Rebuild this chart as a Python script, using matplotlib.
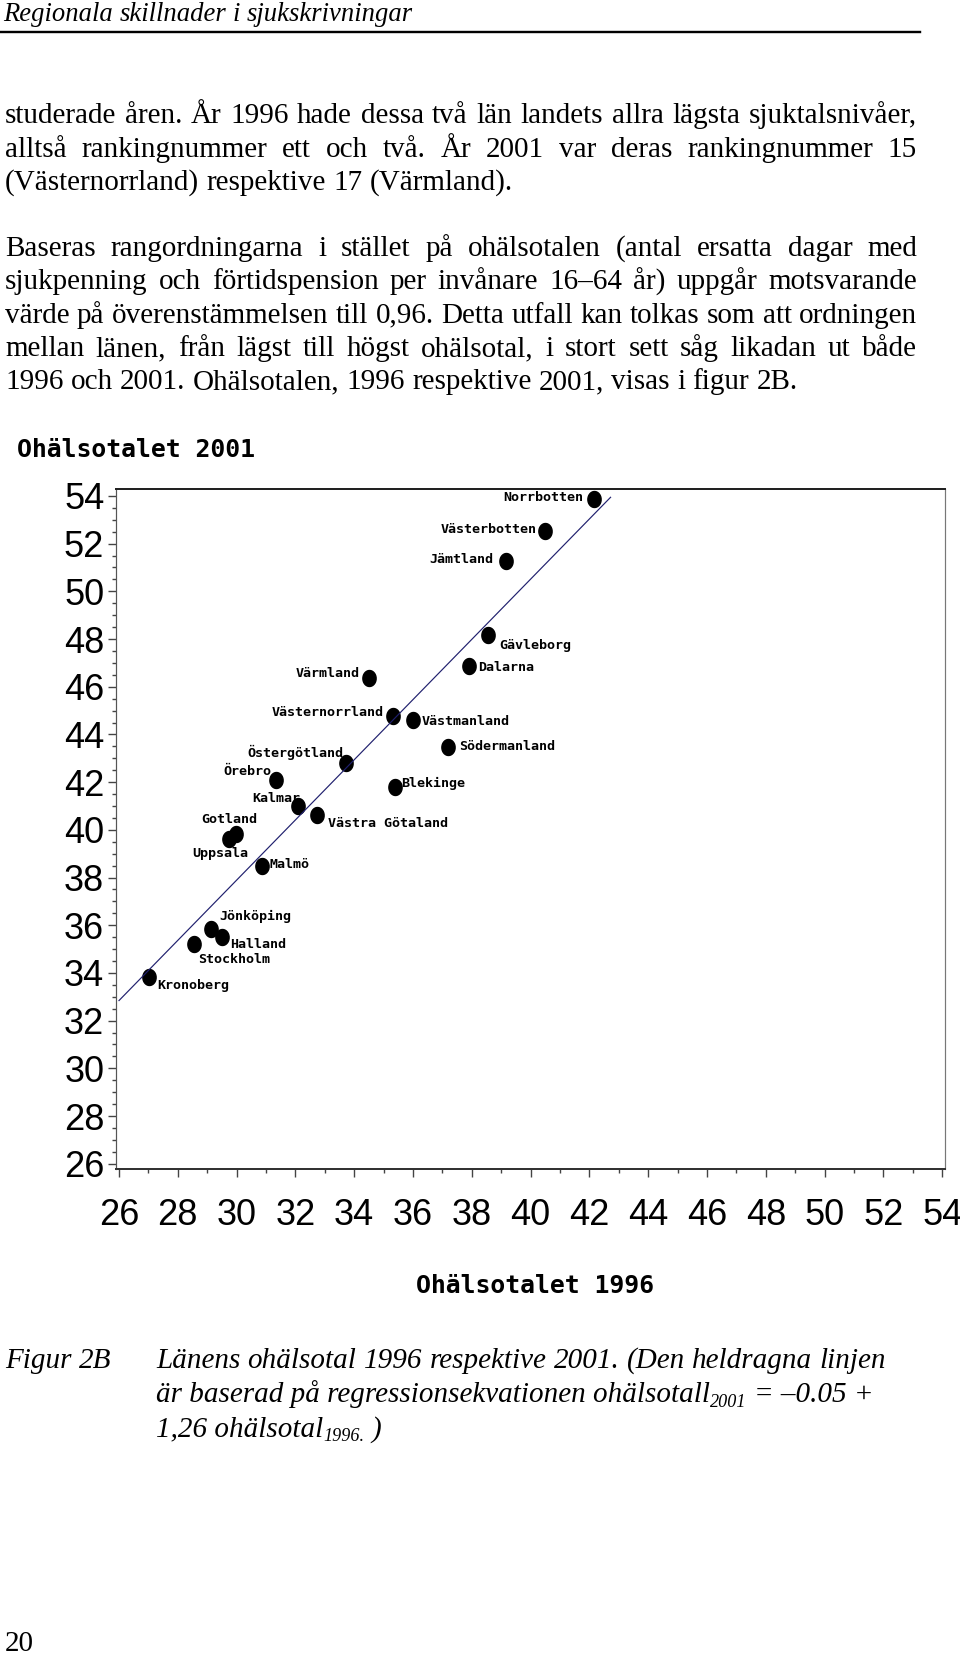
import matplotlib
matplotlib.use('Agg')
import matplotlib.pyplot as plt
import numpy as np
from matplotlib.ticker import MultipleLocator
from matplotlib.lines import Line2D
from matplotlib import font_manager

# ---------------- data ----------------
counties = ['Norrbotten', 'Västerbotten', 'Jämtland', 'Gävleborg', 'Dalarna',
            'Värmland', 'Västernorrland', 'Västmanland', 'Södermanland',
            'Östergötland', 'Örebro', 'Blekinge', 'Kalmar', 'Västra Götaland',
            'Gotland', 'Uppsala', 'Malmö', 'Jönköping', 'Halland', 'Stockholm',
            'Kronoberg']
ohalsotal_1996 = [42.17, 40.49, 39.15, 38.56, 37.90, 34.49, 35.31, 36.01, 37.19,
                  33.72, 31.33, 35.40, 32.09, 32.72, 29.97, 29.75, 30.86, 29.13,
                  29.49, 28.55, 27.01]
ohalsotal_2001 = [53.86, 52.55, 51.29, 48.18, 46.88, 46.37, 44.78, 44.61, 43.49,
                  42.79, 42.09, 41.81, 41.00, 40.61, 39.82, 39.62, 38.50, 35.83,
                  35.52, 35.22, 33.82]
reg_intercept = 0.03
reg_slope = 1.262
reg_x_range = [26.0, 42.72]
x_ticks = list(range(26, 55, 2))
y_ticks = list(range(26, 55, 2))

header_text = "Regionala skillnader i sjukskrivningar"
para1 = ["studerade åren. År 1996 hade dessa två län landets allra lägsta sjuktalsnivåer,",
         "alltså rankingnummer ett och två. År 2001 var deras rankingnummer 15",
         "(Västernorrland) respektive 17 (Värmland)."]
para2 = ["Baseras rangordningarna i stället på ohälsotalen (antal ersatta dagar med",
         "sjukpenning och förtidspension per invånare 16–64 år) uppgår motsvarande",
         "värde på överenstämmelsen till 0,96. Detta utfall kan tolkas som att ordningen",
         "mellan länen, från lägst till högst ohälsotal, i stort sett såg likadan ut både",
         "1996 och 2001. Ohälsotalen, 1996 respektive 2001, visas i figur 2B."]
chart_title = "Ohälsotalet 2001"
x_label = "Ohälsotalet 1996"
fig_label = "Figur 2B"
caption1 = "Länens ohälsotal 1996 respektive 2001. (Den heldragna linjen"
caption2 = [("är baserad på regressionsekvationen ohälsotall", False), ("2001", True), (" = –0.05 +", False)]
caption3 = [("1,26 ohälsotal", False), ("1996.", True), (" )", False)]
page_number = "20"

# ---------------- layout (pixels) ----------------
W, H, DPI = 960, 1660, 100
PT = 72.0 / DPI
# label offsets: (dx, dy of text centre, horizontal anchor) in pixels
label_layout = {
    'Norrbotten': (-11, -3, 'right'), 'Västerbotten': (-8, -3, 'right'),
    'Jämtland': (-12, -3, 'right'), 'Gävleborg': (11, 9, 'left'),
    'Dalarna': (9, 0, 'left'), 'Värmland': (-9, -6, 'right'),
    'Västernorrland': (-9, -5, 'right'), 'Västmanland': (8, 0, 'left'),
    'Södermanland': (11, -2, 'left'), 'Östergötland': (-3, -11, 'right'),
    'Örebro': (-4, -10, 'right'), 'Blekinge': (6, -5, 'left'),
    'Kalmar': (2, -9, 'right'), 'Västra Götaland': (11, 7, 'left'),
    'Gotland': (-6, -16, 'center'), 'Uppsala': (-9, 13, 'center'),
    'Malmö': (8, -3, 'left'), 'Jönköping': (8, -14, 'left'),
    'Halland': (9, 6, 'left'), 'Stockholm': (4, 14, 'left'),
    'Kronoberg': (9, 7, 'left'),
}

SERIF = 'Liberation Serif'
MONO = 'DejaVu Sans Mono'
installed = {f.name for f in font_manager.fontManager.ttflist}
if 'Liberation Sans Narrow' in installed:
    TICKFONT, TICKSIZE = 'Liberation Sans Narrow', 27.5
else:
    TICKFONT, TICKSIZE = 'Liberation Sans', 26

fig = plt.figure(figsize=(W / DPI, H / DPI), dpi=DPI)
fig.patch.set_facecolor('white')
renderer = fig.canvas.get_renderer()


def fx(x):
    return x / W


def fy(y):
    return 1 - y / H


def measure(s, size, style='normal', family=SERIF):
    t = fig.text(0, 0, s, fontsize=size, fontstyle=style, family=family)
    w = t.get_window_extent(renderer=renderer).width
    t.remove()
    return w


def space_w(size, style='normal'):
    return measure("a a", size, style) - 2 * measure("a", size, style)


def natural(line, size, style='normal'):
    words = line.split(' ')
    return sum(measure(w, size, style) for w in words) + (len(words) - 1) * space_w(size, style)


def draw_line(line, x0, base, size, style='normal', target=None):
    words = line.split(' ')
    ws = [measure(w, size, style) for w in words]
    if target is None or len(words) < 2:
        gap = space_w(size, style)
    else:
        gap = (target - sum(ws)) / (len(words) - 1)
    x = x0
    for w, wd in zip(words, ws):
        fig.text(fx(x), fy(base), w, fontsize=size, fontstyle=style, family=SERIF,
                 va='baseline', ha='left', color='black')
        x += wd + gap


def draw_runs(runs, x0, base, size, style='italic'):
    x = x0
    sp = space_w(size, style)
    for s, sub in runs:
        lead = s.startswith(' ')
        s2 = s.strip()
        if lead:
            x += sp
        sz = size * 0.62 if sub else size
        b = base + (size / PT) * 0.16 if sub else base
        fig.text(fx(x), fy(b), s2, fontsize=sz, fontstyle=style, family=SERIF,
                 va='baseline', ha='left', color='black')
        x += measure(s2, sz, style)


# ---------------- header ----------------
ref = 20.0
hs = ref * 410 / natural(header_text, ref, 'italic')
draw_line(header_text, 3, 20.7, hs, 'italic')
fig.add_artist(Line2D([fx(0), fx(920)], [fy(31.7), fy(31.7)], color='black', lw=2.4 * PT))

# ---------------- body text ----------------
all_lines = para1[:-1] + para2[:-1]
bs = min(ref * 912 / natural(l, ref) for l in all_lines)
bases1 = [123.3, 156.6, 189.9]
bases2 = [256.0, 289.3, 322.6, 355.9, 389.2]
for i, (l, b) in enumerate(zip(para1, bases1)):
    draw_line(l, 5, b, bs, 'normal', None if i == len(para1) - 1 else 912)
for i, (l, b) in enumerate(zip(para2, bases2)):
    draw_line(l, 5, b, bs, 'normal', None if i == len(para2) - 1 else 912)

# ---------------- chart ----------------
fig.text(fx(17), fy(456.7), chart_title, fontsize=17.8, family=MONO, fontweight='bold',
         va='baseline', ha='left')

ax = fig.add_axes([116 / W, 1 - 1169 / H, 829 / W, 680 / H])
ax.set_xlim(25.898, 54.095)
ax.set_ylim(25.78, 54.29)
ax.set_xticks(x_ticks)
ax.set_yticks(y_ticks)
ax.set_xticklabels([str(v) for v in x_ticks])
ax.set_yticklabels([str(v) for v in y_ticks])
ax.xaxis.set_minor_locator(MultipleLocator(1))
ax.yaxis.set_minor_locator(MultipleLocator(0.5))
ax.tick_params(which='major', direction='out', length=8 * PT, width=1.0, color='#444444')
ax.tick_params(which='minor', direction='out', length=4 * PT, width=1.0, color='#444444')
ax.tick_params(axis='x', which='major', pad=15, labelsize=TICKSIZE)
ax.tick_params(axis='y', which='major', pad=2.7, labelsize=TICKSIZE)
for lab in ax.get_xticklabels() + ax.get_yticklabels():
    lab.set_family(TICKFONT)
    lab.set_color('black')
ax.spines['top'].set_linewidth(2.0 * PT)
ax.spines['top'].set_color('#222222')
ax.spines['bottom'].set_linewidth(2.0 * PT)
ax.spines['bottom'].set_color('#333333')
ax.spines['left'].set_linewidth(1.2 * PT)
ax.spines['left'].set_color('#555555')
ax.spines['right'].set_linewidth(1.2 * PT)
ax.spines['right'].set_color('#777777')

t = np.linspace(0, 2 * np.pi, 48)
ellipse = np.column_stack([0.83 * np.cos(t), np.sin(t)])
ax.plot(ohalsotal_1996, ohalsotal_2001, linestyle='none', marker=ellipse,
        markersize=11.5, color='black', zorder=2, clip_on=False)

xr = np.array(reg_x_range)
ax.plot(xr, reg_intercept + reg_slope * xr, color='#20206e', lw=0.85, zorder=3)

for name, xv, yv in zip(counties, ohalsotal_1996, ohalsotal_2001):
    dx, dy, ha = label_layout[name]
    ax.annotate(name, (xv, yv), xytext=(dx, -(dy + 5)), textcoords='offset pixels',
                ha=ha, va='baseline', fontsize=9.6, family=MONO, fontweight='bold',
                color='black', zorder=4)

fig.text(fx(535.5), fy(1293), x_label, fontsize=17.8, family=MONO, fontweight='bold',
         va='baseline', ha='center')

# ---------------- caption ----------------
cs = ref * 730 / natural(caption1, ref, 'italic')
draw_line(fig_label, 5, 1368, cs, 'italic')
draw_line(caption1, 156, 1368, cs, 'italic')
draw_runs(caption2, 156, 1402, cs)
draw_runs(caption3, 156, 1436.5, cs)

draw_line(page_number, 5, 1651, bs, 'normal')

fig.savefig('out.png', dpi=DPI, facecolor='white')
